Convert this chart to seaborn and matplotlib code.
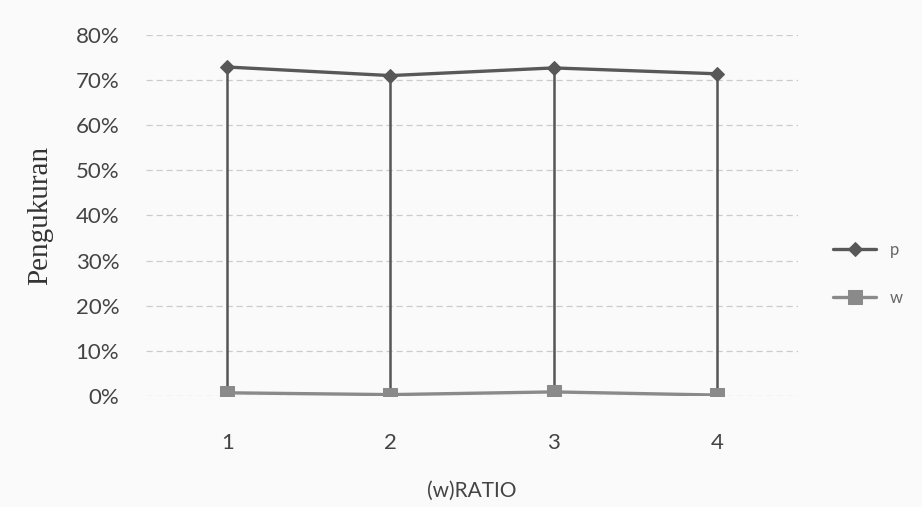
import pandas as pd
import numpy as np
import seaborn as sns
import matplotlib.pyplot as plt

# data
ratio = [1, 2, 3, 4]
p_vals = [0.729, 0.710, 0.727, 0.714]
w_vals = [0.007, 0.003, 0.009, 0.002]
y_ticks = [0, 0.1, 0.2, 0.3, 0.4, 0.5, 0.6, 0.7, 0.8]

df = pd.DataFrame({
    'ratio': ratio * 2,
    'val': p_vals + w_vals,
    'seri': ['p'] * 4 + ['w'] * 4,
})

sns.set_style('white')
plt.rcParams['font.family'] = ['Lato', 'DejaVu Sans']

fig = plt.figure(figsize=(9.22, 5.07), dpi=100, facecolor='#fafafa')
ax = fig.add_axes([0.158, 0.219, 0.708, 0.712])
ax.set_facecolor('#fafafa')

# drop lines from w up to p
ax.vlines(ratio, w_vals, p_vals, color='#555555', lw=1.8, zorder=2)

sns.lineplot(data=df, x='ratio', y='val', hue='seri', style='seri',
             markers={'p': 'D', 'w': 's'}, dashes=False,
             palette={'p': '#585858', 'w': '#8a8a8a'},
             lw=2.4, ax=ax, zorder=3)
for ln in ax.lines:
    ln.set_markeredgecolor(ln.get_color())
    if ln.get_marker() == 's':
        ln.set_markersize(10)
    elif ln.get_marker() == 'D':
        ln.set_markersize(7)

ax.set_xlim(0.5, 4.5)
ax.set_ylim(0, 0.8)
ax.set_xticks(ratio)
ax.set_xticklabels([str(r) for r in ratio])
ax.set_yticks(y_ticks)
ax.set_yticklabels(['%d%%' % round(t * 100) for t in y_ticks])
ax.tick_params(axis='both', labelsize=16, labelcolor='#444444', length=0)
ax.tick_params(axis='y', pad=19)
ax.tick_params(axis='x', pad=27)
ax.grid(axis='y', color='#cccccc', lw=0.9, ls=(0, (5, 3)))
for s in ax.spines.values():
    s.set_visible(False)

ax.set_xlabel('(w)RATIO', fontsize=15, color='#444444', labelpad=20)
ax.set_ylabel('Pengukuran', fontsize=21, color='#333333',
              family=['Liberation Serif', 'DejaVu Serif'], labelpad=16)

leg = ax.legend(loc='center left', bbox_to_anchor=(1.03, 0.338), frameon=False,
                fontsize=12, labelspacing=1.9, handlelength=2.6)
for t in leg.get_texts():
    t.set_color('#666666')

fig.savefig('out.png', dpi=100, facecolor=fig.get_facecolor())
